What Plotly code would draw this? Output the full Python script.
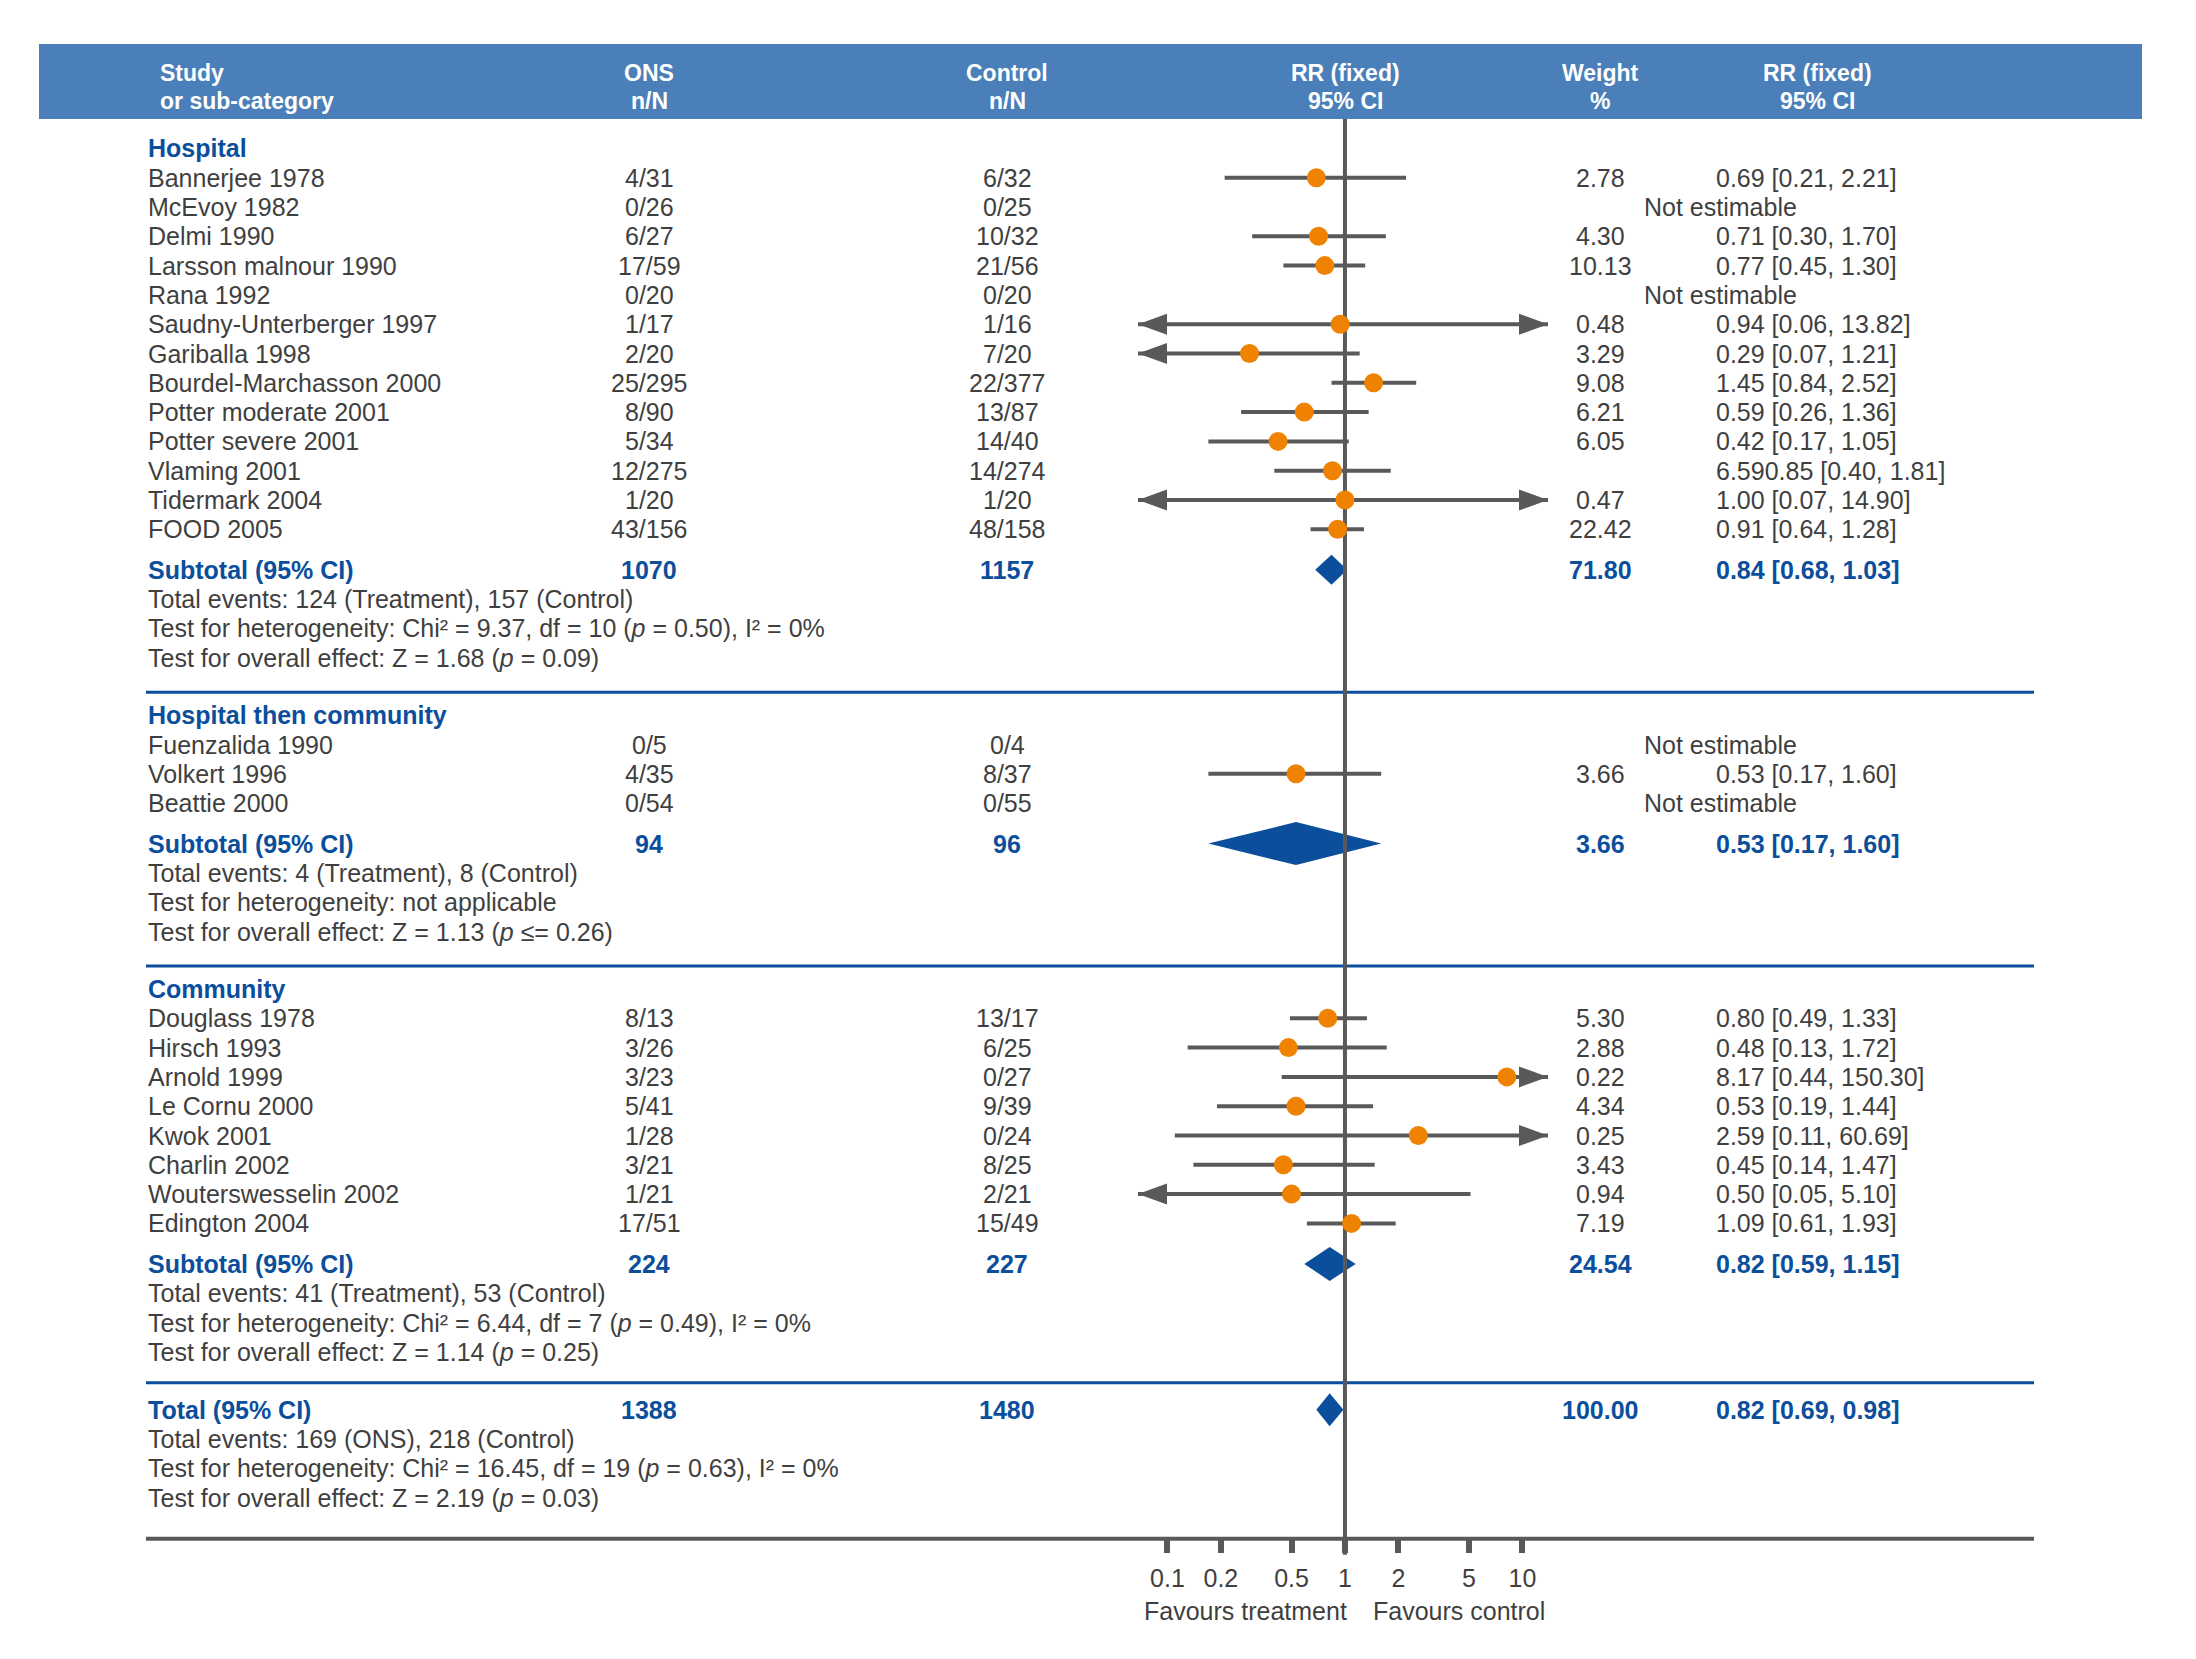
import plotly.graph_objects as go

# ---------------------------------------------------------------- data
group_name = ["Hospital", "Hospital then community", "Community"]

study = ["Bannerjee 1978", "McEvoy 1982", "Delmi 1990", "Larsson malnour 1990", "Rana 1992",
         "Saudny-Unterberger 1997", "Gariballa 1998", "Bourdel-Marchasson 2000", "Potter moderate 2001",
         "Potter severe 2001", "Vlaming 2001", "Tidermark 2004", "FOOD 2005",
         "Fuenzalida 1990", "Volkert 1996", "Beattie 2000",
         "Douglass 1978", "Hirsch 1993", "Arnold 1999", "Le Cornu 2000", "Kwok 2001", "Charlin 2002",
         "Wouterswesselin 2002", "Edington 2004"]
study_group = [0] * 13 + [1] * 3 + [2] * 8

ons_nN = ["4/31", "0/26", "6/27", "17/59", "0/20", "1/17", "2/20", "25/295", "8/90", "5/34", "12/275",
          "1/20", "43/156",
          "0/5", "4/35", "0/54",
          "8/13", "3/26", "3/23", "5/41", "1/28", "3/21", "1/21", "17/51"]
control_nN = ["6/32", "0/25", "10/32", "21/56", "0/20", "1/16", "7/20", "22/377", "13/87", "14/40", "14/274",
              "1/20", "48/158",
              "0/4", "8/37", "0/55",
              "13/17", "6/25", "0/27", "9/39", "0/24", "8/25", "2/21", "15/49"]
weight_pct = ["2.78", "", "4.30", "10.13", "", "0.48", "3.29", "9.08", "6.21", "6.05", "", "0.47", "22.42",
              "", "3.66", "",
              "5.30", "2.88", "0.22", "4.34", "0.25", "3.43", "0.94", "7.19"]
rr_text = ["0.69 [0.21, 2.21]", "Not estimable", "0.71 [0.30, 1.70]", "0.77 [0.45, 1.30]", "Not estimable",
           "0.94 [0.06, 13.82]", "0.29 [0.07, 1.21]", "1.45 [0.84, 2.52]", "0.59 [0.26, 1.36]",
           "0.42 [0.17, 1.05]", "6.590.85 [0.40, 1.81]", "1.00 [0.07, 14.90]", "0.91 [0.64, 1.28]",
           "Not estimable", "0.53 [0.17, 1.60]", "Not estimable",
           "0.80 [0.49, 1.33]", "0.48 [0.13, 1.72]", "8.17 [0.44, 150.30]", "0.53 [0.19, 1.44]",
           "2.59 [0.11, 60.69]", "0.45 [0.14, 1.47]", "0.50 [0.05, 5.10]", "1.09 [0.61, 1.93]"]
rr = [0.69, None, 0.71, 0.77, None, 0.94, 0.29, 1.45, 0.59, 0.42, 0.85, 1.00, 0.91,
      None, 0.53, None,
      0.80, 0.48, 8.17, 0.53, 2.59, 0.45, 0.50, 1.09]
rr_low = [0.21, None, 0.30, 0.45, None, 0.06, 0.07, 0.84, 0.26, 0.17, 0.40, 0.07, 0.64,
          None, 0.17, None,
          0.49, 0.13, 0.44, 0.19, 0.11, 0.14, 0.05, 0.61]
rr_high = [2.21, None, 1.70, 1.30, None, 13.82, 1.21, 2.52, 1.36, 1.05, 1.81, 14.90, 1.28,
           None, 1.60, None,
           1.33, 1.72, 150.30, 1.44, 60.69, 1.47, 5.10, 1.93]

sub_ons = ["1070", "94", "224"]
sub_control = ["1157", "96", "227"]
sub_weight = ["71.80", "3.66", "24.54"]
sub_rr_text = ["0.84 [0.68, 1.03]", "0.53 [0.17, 1.60]", "0.82 [0.59, 1.15]"]
sub_rr = [0.84, 0.53, 0.82]
sub_low = [0.68, 0.17, 0.59]
sub_high = [1.03, 1.60, 1.15]
sub_events = ["Total events: 124 (Treatment), 157 (Control)",
              "Total events: 4 (Treatment), 8 (Control)",
              "Total events: 41 (Treatment), 53 (Control)"]
sub_hetero = ["Test for heterogeneity: Chi² = 9.37, df = 10 (<i>p</i> = 0.50), I² = 0%",
              "Test for heterogeneity: not applicable",
              "Test for heterogeneity: Chi² = 6.44, df = 7 (<i>p</i> = 0.49), I² = 0%"]
sub_effect = ["Test for overall effect: Z = 1.68 (<i>p</i> = 0.09)",
              "Test for overall effect: Z = 1.13 (<i>p</i> ≤= 0.26)",
              "Test for overall effect: Z = 1.14 (<i>p</i> = 0.25)"]

total_ons = "1388"
total_control = "1480"
total_weight = "100.00"
total_rr_text = "0.82 [0.69, 0.98]"
total_rr, total_low, total_high = 0.82, 0.69, 0.98
total_notes = ["Total events: 169 (ONS), 218 (Control)",
               "Test for heterogeneity: Chi² = 16.45, df = 19 (<i>p</i> = 0.63), I² = 0%",
               "Test for overall effect: Z = 2.19 (<i>p</i> = 0.03)"]

header_line1 = ["Study", "ONS", "Control", "RR (fixed)", "Weight", "RR (fixed)"]
header_line2 = ["or sub-category", "n/N", "n/N", "95% CI", "%", "95% CI"]

tick_values = [0.1, 0.2, 0.5, 1, 2, 5, 10]
tick_labels = ["0.1", "0.2", "0.5", "1", "2", "5", "10"]

# ---------------------------------------------------------------- style
W, H = 2196, 1659
OFF = 8                                  # page margin around the plot div
FW, FH = W - 2 * OFF, H - 2 * OFF
BODY_FONT = "Liberation Sans, Arial, Helvetica, sans-serif"
FS = 25
TEXT = "#3f3f3f"
BLUE = "#0b4f9c"
HEAD_BG = "#4a7fb9"
ORANGE = "#ef8200"
LINE = "#595959"

X_STUDY, X_ONS, X_CTRL, X_WT, X_RR, X_NE = 146, 649, 1007, 1600, 1714, 1642
HEAD_X = [158, 649, 1007, 1345, 1600, 1817]
XMIN_LOG, XMAX_LOG = -1.166, 1.144      # log10 limits of the forest panel
PANEL_X0, PANEL_X1 = 1138, 1548         # pixel span of the forest panel
ROW = 29.3
DIAMOND_H = [30, 43, 34, 33]
ARROW_LEN, ARROW_HALF = 29, 10.5


def px(x):
    return (x - OFF) / FW


annotations = []
shapes = []


def txt(x, y, s, anchor="left", color=TEXT, size=FS):
    annotations.append(dict(x=px(x), y=y, xref="paper", yref="y", text=s, showarrow=False,
                            xanchor=anchor, yanchor="middle",
                            font=dict(family=BODY_FONT, size=size, color=color)))


def hline(y, color, width, x0=146, x1=2034, layer="below"):
    shapes.append(dict(type="line", xref="paper", yref="y", x0=px(x0), x1=px(x1), y0=y, y1=y,
                       line=dict(color=color, width=width), layer=layer))


# header band
shapes.append(dict(type="rect", xref="paper", yref="y", x0=px(39), x1=px(2142), y0=44, y1=119,
                   fillcolor=HEAD_BG, line=dict(width=0), layer="below"))
for i in range(6):
    anchor = "left" if i == 0 else "center"
    txt(HEAD_X[i], 73, "<b>%s</b>" % header_line1[i], anchor, "white", 23)
    txt(HEAD_X[i], 101, "<b>%s</b>" % header_line2[i], anchor, "white", 23)

ci_x, ci_y, pt_x, pt_y = [], [], [], []
arrows = []     # (y, side)
diamonds = []   # (y, est, lo, hi)
lo_lim, hi_lim = 10 ** XMIN_LOG, 10 ** XMAX_LOG

y = 148.4
sep_gap = [34.5, 34.5, 31]
after_sep = [23, 23, 27]
for g in range(3):
    txt(X_STUDY, y, "<b>%s</b>" % group_name[g], color=BLUE)
    for i in range(len(study)):
        if study_group[i] != g:
            continue
        y += ROW
        txt(X_STUDY, y, study[i])
        txt(X_ONS, y, ons_nN[i], "center")
        txt(X_CTRL, y, control_nN[i], "center")
        if weight_pct[i]:
            txt(X_WT, y, weight_pct[i], "center")
        if rr[i] is None:
            txt(X_NE, y, rr_text[i])
            continue
        txt(X_RR, y, rr_text[i])
        lo, hi = rr_low[i], rr_high[i]
        if lo < 0.1:
            lo = lo_lim
            arrows.append((y, -1))
        if hi > 10:
            hi = hi_lim
            arrows.append((y, 1))
        ci_x += [lo, hi, None]
        ci_y += [y, y, None]
        pt_x.append(rr[i])
        pt_y.append(y)
    y += 40.5
    txt(X_STUDY, y, "<b>Subtotal (95% CI)</b>", color=BLUE)
    txt(X_ONS, y, "<b>%s</b>" % sub_ons[g], "center", BLUE)
    txt(X_CTRL, y, "<b>%s</b>" % sub_control[g], "center", BLUE)
    txt(X_WT, y, "<b>%s</b>" % sub_weight[g], "center", BLUE)
    txt(X_RR, y, "<b>%s</b>" % sub_rr_text[g], color=BLUE)
    diamonds.append((y, sub_rr[g], sub_low[g], sub_high[g]))
    for note in (sub_events[g], sub_hetero[g], sub_effect[g]):
        y += ROW
        txt(X_STUDY, y, note)
    y += sep_gap[g]
    hline(y, BLUE, 3)
    y += after_sep[g]

txt(X_STUDY, y, "<b>Total (95% CI)</b>", color=BLUE)
txt(X_ONS, y, "<b>%s</b>" % total_ons, "center", BLUE)
txt(X_CTRL, y, "<b>%s</b>" % total_control, "center", BLUE)
txt(X_WT, y, "<b>%s</b>" % total_weight, "center", BLUE)
txt(X_RR, y, "<b>%s</b>" % total_rr_text, color=BLUE)
diamonds.append((y, total_rr, total_low, total_high))
for note in total_notes:
    y += ROW
    txt(X_STUDY, y, note)

AXIS_Y = y + 41
hline(AXIS_Y, LINE, 4)
txt(1349, AXIS_Y + 72, "Favours treatment", "right")
txt(1371, AXIS_Y + 72, "Favours control", "left")

# ---------------------------------------------------------------- traces
fig = go.Figure()

for k, (yy, est, lo, hi) in enumerate(diamonds):
    h = DIAMOND_H[k] / 2
    fig.add_trace(go.Scatter(x=[lo, est, hi, est, lo], y=[yy, yy - h, yy, yy + h, yy],
                             mode="lines", fill="toself", fillcolor=BLUE,
                             line=dict(width=0, color=BLUE), hoverinfo="skip"))

fig.add_trace(go.Scatter(x=[1, 1], y=[119, AXIS_Y + 16], mode="lines",
                         line=dict(color=LINE, width=4), hoverinfo="skip"))

fig.add_trace(go.Scatter(x=ci_x, y=ci_y, mode="lines", line=dict(color=LINE, width=4),
                         hoverinfo="skip"))

base_off = ARROW_LEN / ((PANEL_X1 - PANEL_X0) / (XMAX_LOG - XMIN_LOG))
for yy, side in arrows:
    tip = XMIN_LOG if side < 0 else XMAX_LOG
    base = 10 ** (tip - side * base_off)
    fig.add_trace(go.Scatter(x=[10 ** tip, base, base, 10 ** tip],
                             y=[yy, yy - ARROW_HALF, yy + ARROW_HALF, yy],
                             mode="lines", fill="toself", fillcolor=LINE,
                             line=dict(width=0, color=LINE), hoverinfo="skip"))

fig.add_trace(go.Scatter(x=pt_x, y=pt_y, mode="markers",
                         marker=dict(color=ORANGE, size=19, line=dict(width=0)),
                         hoverinfo="skip"))

fig.update_layout(
    template="none",
    width=FW, height=FH,
    margin=dict(l=0, r=0, t=0, b=0),
    paper_bgcolor="white",
    plot_bgcolor="rgba(0,0,0,0)",
    showlegend=False,
    annotations=annotations,
    shapes=shapes,
    xaxis=dict(type="log", range=[XMIN_LOG, XMAX_LOG], domain=[px(PANEL_X0), px(PANEL_X1)],
               anchor="free", position=(H - OFF - AXIS_Y) / FH,
               tickvals=tick_values, ticktext=tick_labels, ticks="outside", ticklen=13,
               tickwidth=6, tickcolor=LINE, ticklabelstandoff=4,
               tickfont=dict(family=BODY_FONT, size=FS, color=TEXT),
               showline=False, showgrid=False, zeroline=False),
    yaxis=dict(range=[H - OFF, OFF], domain=[0, 1], visible=False),
)

fig.write_html("out.html")
